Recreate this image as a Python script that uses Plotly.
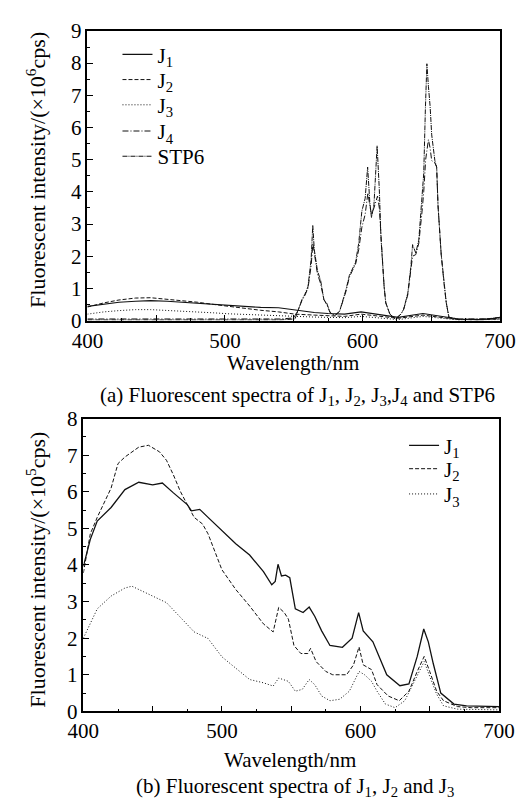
import plotly.graph_objects as go

# ---------- (a) top chart data, x10^6 cps ----------
a_j1_x = [400,410,423,435,446,458,469,480,492,503,514,526,539,551,565,575,587,599,610,626,644,656,670,685,695,700]
a_j1_y = [0.44,0.5,0.57,0.6,0.62,0.6,0.57,0.54,0.5,0.47,0.44,0.41,0.4,0.33,0.25,0.22,0.2,0.27,0.2,0.1,0.22,0.15,0.05,0.03,0.06,0.1]

a_j2_x = [400,412,423,435,446,457,469,480,492,503,514,526,539,551,565,587,599,610,626,644,656,670,685,700]
a_j2_y = [0.42,0.55,0.64,0.7,0.71,0.67,0.62,0.57,0.5,0.44,0.38,0.32,0.27,0.2,0.17,0.13,0.2,0.14,0.07,0.17,0.1,0.03,0.02,0.05]

a_j3_x = [400,412,423,435,446,457,469,480,492,503,514,526,539,551,565,587,599,610,626,644,656,670,700]
a_j3_y = [0.2,0.27,0.31,0.34,0.34,0.32,0.3,0.27,0.24,0.21,0.19,0.16,0.15,0.13,0.11,0.09,0.13,0.09,0.03,0.13,0.07,0.02,0.03]

a_j4_x = [400,450,500,540,550,553,556,558,560.4,562.7,564,565,567.3,569.6,572,574,576.5,580,583.5,588,590.5,592.7,595,597.3,599.6,602,604,605.4,606.6,608.4,611,612.3,613.5,615.8,617,620,624,628,630,633,635.3,636.5,638.8,641,643.4,644.6,646,648,649.2,650.4,652.7,654,655,657.3,659.6,661,663,670,690,700]
a_j4_y = [0.05,0.05,0.05,0.05,0.08,0.3,0.62,0.77,1.0,1.7,2.4,2.1,1.45,1.15,0.65,0.5,0.25,0.15,0.3,0.9,1.35,1.55,1.75,2.2,2.9,3.3,3.97,3.57,3.3,3.5,3.87,3.5,2.56,1.05,0.55,0.2,0.05,0.2,0.35,0.8,1.6,2.0,2.05,2.4,3.4,4.0,5.0,5.62,5.37,4.97,4.9,4.77,3.57,2.06,1.05,0.55,0.1,0.05,0.05,0.08]

a_stp6_x = [400,450,500,540,551,553,556,558,560.4,562.7,563.9,565,567.3,569.6,572,574,576.5,580,583.5,588,590.5,592.7,595,597.3,599.6,602,603.8,605.4,606.6,608.4,610.7,612.3,613.5,615.8,617,620,624,628,630,633,635.3,636.5,638.8,641,643.4,644.6,645.8,646.9,648,649.2,650.4,652.7,654,655,657.3,659.6,661,663,670,690,700]
a_stp6_y = [0.02,0.02,0.02,0.02,0.05,0.3,0.65,0.8,1.05,1.9,2.96,2.2,1.55,1.25,0.65,0.55,0.25,0.15,0.3,0.95,1.4,1.6,1.8,2.4,3.4,3.8,4.77,3.67,3.2,3.6,5.43,4.07,2.56,1.05,0.55,0.2,0.05,0.2,0.35,0.85,1.7,2.36,2.1,2.5,3.8,4.57,6.58,7.98,7.28,6.68,5.77,4.97,4.77,3.57,2.06,1.05,0.55,0.08,0.03,0.05,0.1]

# ---------- (b) bottom chart data, x10^5 cps ----------
b_j1_x = [400,405,410,420,430,440,450,457,465,475,478,484,490,500,510,520,530,536,538.5,540.5,543,546,549,553,558.6,563,567,572,578,587,594,598.7,602,609,614,619,628.5,635,641,645.7,649,652.6,658,667.5,676.6,690,700]
b_j1_y = [3.96,4.7,5.2,5.57,6.06,6.26,6.19,6.24,5.97,5.65,5.48,5.52,5.3,4.94,4.58,4.27,3.82,3.46,3.55,4.02,3.7,3.72,3.65,2.8,2.7,2.85,2.6,2.2,1.8,1.75,2.0,2.7,2.2,1.9,1.45,1.0,0.7,0.75,1.5,2.25,1.9,1.3,0.5,0.2,0.15,0.13,0.13]

b_j2_x = [400,405,410,420,425,430,440,447,455,460,465,470,475,480,486,490,500,510,520,530,537,541,545,548,552,557,562,564,568,575,580,590,595,599,602,608,612,620,628,635,641,646,650,655,660,670,680,700]
b_j2_y = [3.78,4.85,5.3,6.1,6.77,6.95,7.22,7.27,7.09,6.86,6.46,6.01,5.65,5.3,5.12,4.85,3.87,3.33,2.88,2.39,2.17,2.84,2.7,2.52,1.8,1.58,1.58,1.72,1.36,1.09,1.0,1.0,1.27,1.76,1.27,1.14,0.73,0.42,0.29,0.55,1.09,1.5,1.09,0.55,0.29,0.13,0.1,0.1]

b_j3_x = [400,410,420,430,435,440,450,460,470,480,490,500,510,520,530,537,541,548,553,558,563,567,572,578,585,592,599,603,608,612,618,625,632,640,646,650,655,660,670,700]
b_j3_y = [2.0,2.8,3.15,3.37,3.42,3.33,3.15,2.97,2.57,2.17,1.99,1.49,1.18,0.87,0.78,0.69,0.91,0.82,0.55,0.6,0.87,0.73,0.42,0.29,0.33,0.55,1.09,1.0,0.82,0.55,0.2,0.1,0.29,0.91,1.36,0.96,0.47,0.15,0.06,0.04]

x_tickvals = [400, 450, 500, 550, 600, 650, 700]
x_ticktext = ["400", "", "500", "", "600", "", "700"]

FONT = "Times New Roman, Liberation Serif, Tinos, DejaVu Serif, serif"
FS = 21
LC = "#111111"
W, H = 530, 810
def px(xp): return xp / W
def py(yp): return (H - yp) / H

fig = go.Figure()
legends = {}

def add(x, y, name, dash, width, xa, ya, leg, lx, ly):
    fig.add_trace(go.Scatter(x=x, y=y, mode="lines", name=name,
                             line=dict(color=LC, width=width, dash=dash),
                             xaxis=xa, yaxis=ya, legend=leg))
    legends[leg] = dict(x=px(lx), y=py(ly), xanchor="left", yanchor="middle",
                        bgcolor="rgba(0,0,0,0)", borderwidth=0,
                        font=dict(family=FONT, size=FS, color="black"),
                        itemwidth=30)

add(a_j1_x, a_j1_y, "J<sub>1</sub>", "solid", 1.1, "x", "y", "legend", 108, 44)
add(a_j2_x, a_j2_y, "J<sub>2</sub>", "4px,2px", 1.0, "x", "y", "legend2", 108, 70)
add(a_j3_x, a_j3_y, "J<sub>3</sub>", "1px,2px", 1.0, "x", "y", "legend3", 108, 96)
add(a_j4_x, a_j4_y, "J<sub>4</sub>", "6px,2px,1px,2px", 1.0, "x", "y", "legend4", 108, 123)
add(a_stp6_x, a_stp6_y, "STP6", "5px,1px,1px,1px", 1.0, "x", "y", "legend5", 108, 149)

add(b_j1_x, b_j1_y, "J<sub>1</sub>", "solid", 1.3, "x2", "y2", "legend6", 413, 447)
add(b_j2_x, b_j2_y, "J<sub>2</sub>", "4px,2px", 1.0, "x2", "y2", "legend7", 413, 471)
add(b_j3_x, b_j3_y, "J<sub>3</sub>", "1px,2px", 1.0, "x2", "y2", "legend8", 413, 497)

axis_common = dict(showline=True, mirror=True, linecolor="black", linewidth=1.5,
                   ticks="inside", ticklen=6, tickwidth=1, tickcolor="black",
                   showgrid=False, zeroline=False,
                   tickfont=dict(family=FONT, size=FS, color="black"))

fig.update_layout(
    width=W, height=H, margin=dict(l=0, r=0, t=0, b=0),
    paper_bgcolor="white", plot_bgcolor="white",
    font=dict(family=FONT, size=FS, color="black"),
    xaxis=dict(domain=[px(76), px(515)], range=[400, 700], anchor="y",
               tickvals=x_tickvals, ticktext=x_ticktext,
               minor=dict(dtick=25, tick0=400, ticks="inside", ticklen=3, tickcolor="black"),
               **axis_common),
    yaxis=dict(domain=[py(318), py(19.5)], range=[0, 9], anchor="x",
               tickvals=list(range(0, 10)),
               minor=dict(dtick=0.5, tick0=0, ticks="inside", ticklen=3, tickcolor="black"),
               **axis_common),
    xaxis2=dict(domain=[px(71.7), px(514)], range=[400, 700], anchor="y2",
                tickvals=x_tickvals, ticktext=x_ticktext,
                minor=dict(dtick=25, tick0=400, ticks="inside", ticklen=3, tickcolor="black"),
                **axis_common),
    yaxis2=dict(domain=[py(720.7), py(419)], range=[0, 8], anchor="x2",
                tickvals=list(range(0, 9)),
                minor=dict(dtick=0.5, tick0=0, ticks="inside", ticklen=3, tickcolor="black"),
                **axis_common),
    showlegend=True,
    **legends,
)

ann = [
    dict(text="Fluorescent intensity/(×10<sup>6</sup>cps)", x=px(21), y=py(163), textangle=-90, size=22),
    dict(text="Wavelength/nm", x=px(295), y=py(362)),
    dict(text="(a) Fluorescent spectra of J<sub>1</sub>, J<sub>2</sub>, J<sub>3</sub>,J<sub>4</sub> and STP6", x=px(300), y=py(396)),
    dict(text="Fluorescent intensity/(×10<sup>5</sup>cps)", x=px(21), y=py(575), textangle=-90, size=22),
    dict(text="Wavelength/nm", x=px(292), y=py(771)),
    dict(text="(b) Fluorescent spectra of J<sub>1</sub>, J<sub>2</sub> and J<sub>3</sub>", x=px(297), y=py(799)),
]
for a in ann:
    fig.add_annotation(text=a["text"], x=a["x"], y=a["y"], xref="paper", yref="paper",
                       xanchor="center", yanchor="middle", showarrow=False,
                       textangle=a.get("textangle", 0),
                       font=dict(family=FONT, size=a.get("size", FS), color="black"))

fig.write_html("out.html", config={"displayModeBar": False},
               post_script="document.body.style.margin='0';document.body.style.padding='0';document.body.style.overflow='hidden';")
